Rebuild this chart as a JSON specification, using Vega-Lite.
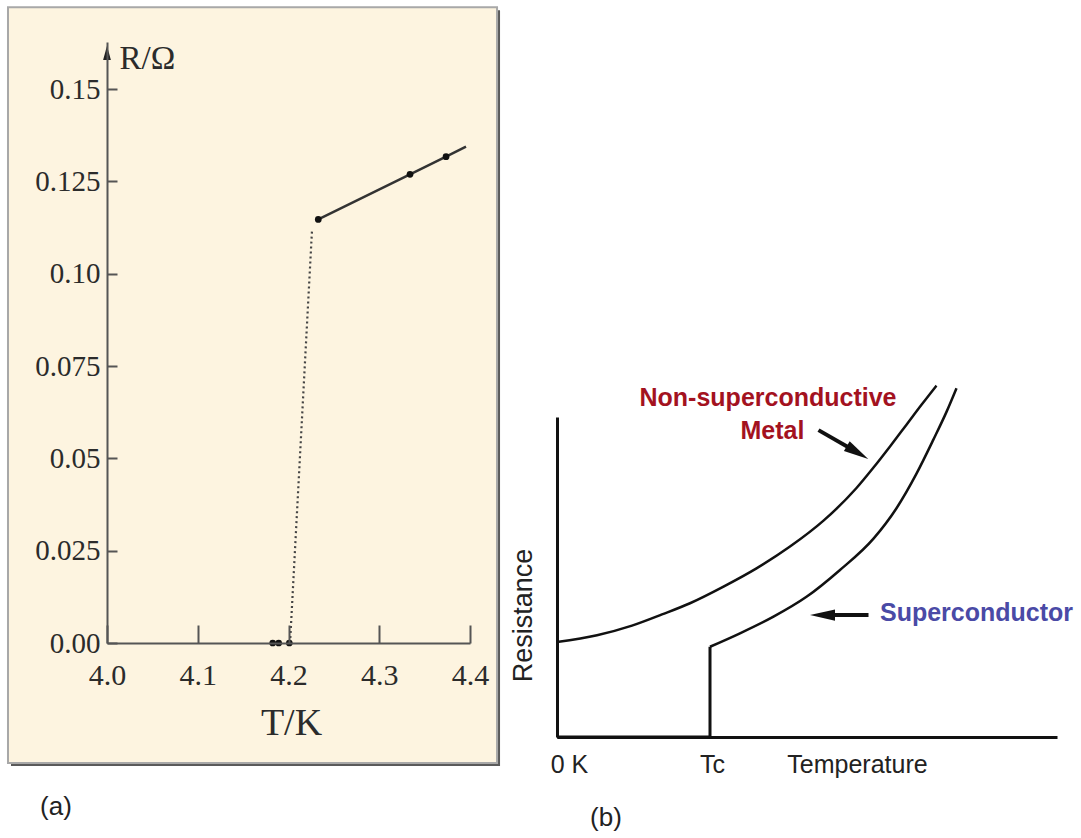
{
  "$schema": "https://vega.github.io/schema/vega-lite/v6.json",
  "width": 1081,
  "height": 838,
  "autosize": {"type": "none"},
  "padding": 0,
  "background": "white",
  "config": {"view": {"stroke": null}},
  "datasets": {
    "a_points": [
      {"T": 4.1826, "R": 0},
      {"T": 4.1892, "R": 0},
      {"T": 4.2009, "R": 0},
      {"T": 4.2328, "R": 0.1147},
      {"T": 4.3339, "R": 0.1269},
      {"T": 4.3736, "R": 0.1317}
    ],
    "a_lines": [
      {"series": "normal", "T": 4.2328, "R": 0.1147},
      {"series": "normal", "T": 4.3339, "R": 0.1269},
      {"series": "normal", "T": 4.3736, "R": 0.1317},
      {"series": "normal", "T": 4.3956, "R": 0.1344},
      {"series": "transition", "T": 4.2017, "R": 0},
      {"series": "transition", "T": 4.2259, "R": 0.1118}
    ],
    "b_step": [
      {"i": 0, "t": 0, "r": 0},
      {"i": 1, "t": 30.6, "r": 0},
      {"i": 2, "t": 30.6, "r": 28.2}
    ],
    "b_curves": [
      {"series": "metal", "t": 0, "r": 29.7},
      {"series": "metal", "t": 8, "r": 31.8},
      {"series": "metal", "t": 15, "r": 34.8},
      {"series": "metal", "t": 21, "r": 38.3},
      {"series": "metal", "t": 26.6, "r": 41.8},
      {"series": "metal", "t": 33.3, "r": 47.0},
      {"series": "metal", "t": 39.9, "r": 52.7},
      {"series": "metal", "t": 46.6, "r": 59.5},
      {"series": "metal", "t": 53.3, "r": 67.6},
      {"series": "metal", "t": 59.9, "r": 77.8},
      {"series": "metal", "t": 63.3, "r": 84.2},
      {"series": "metal", "t": 66.6, "r": 90.8},
      {"series": "metal", "t": 69.9, "r": 97.6},
      {"series": "metal", "t": 72.9, "r": 103.8},
      {"series": "metal", "t": 75.9, "r": 109.8},
      {"series": "super", "t": 30.6, "r": 28.2},
      {"series": "super", "t": 36.6, "r": 32.4},
      {"series": "super", "t": 43.3, "r": 37.6},
      {"series": "super", "t": 49.9, "r": 43.8},
      {"series": "super", "t": 56.6, "r": 52.2},
      {"series": "super", "t": 63.3, "r": 62.0},
      {"series": "super", "t": 67.9, "r": 71.5},
      {"series": "super", "t": 71.9, "r": 82.3},
      {"series": "super", "t": 75.3, "r": 93.0},
      {"series": "super", "t": 77.9, "r": 101.6},
      {"series": "super", "t": 79.9, "r": 109.0}
    ]
  },
  "layer": [
    {
      "layer": [
        {
          "data": {"values": [{}]},
          "mark": {"type": "rect", "fill": "#5a5a5a", "stroke": null},
          "encoding": {
            "x": {"datum": 3.8942, "type": "quantitative"},
            "x2": {"datum": 4.4331},
            "y": {"datum": 0.17137, "type": "quantitative"},
            "y2": {"datum": -0.0333}
          }
        },
        {
          "data": {"values": [{}]},
          "mark": {"type": "rect", "fill": "#fdf4e0", "stroke": "#a8a8a8", "strokeWidth": 2},
          "encoding": {
            "x": {"datum": 3.8909, "type": "quantitative"},
            "x2": {"datum": 4.4298},
            "y": {"datum": 0.17218, "type": "quantitative"},
            "y2": {"datum": -0.03249}
          }
        },
        {
          "data": {"name": "a_lines"},
          "transform": [{"filter": "datum.series === 'transition'"}],
          "mark": {"type": "line", "color": "#444444", "strokeWidth": 2.2, "strokeDash": [2, 3]},
          "encoding": {
            "x": {"field": "T", "type": "quantitative"},
            "y": {"field": "R", "type": "quantitative"}
          }
        },
        {
          "data": {"name": "a_lines"},
          "transform": [{"filter": "datum.series === 'normal'"}],
          "mark": {"type": "line", "color": "#333333", "strokeWidth": 2.5},
          "encoding": {
            "x": {"field": "T", "type": "quantitative"},
            "y": {"field": "R", "type": "quantitative"}
          }
        },
        {
          "data": {"name": "a_points"},
          "mark": {"type": "point", "filled": true, "color": "#111111", "size": 45, "opacity": 1},
          "encoding": {
            "x": {
              "field": "T",
              "type": "quantitative",
              "scale": {"domain": [4.0, 4.4], "range": [107, 470], "nice": false, "zero": false},
              "axis": {
                "orient": "bottom",
                "offset": -195,
                "zindex": 1,
                "grid": false,
                "values": [4.0, 4.1, 4.2, 4.3, 4.4],
                "format": ".1f",
                "domainColor": "#555555",
                "domainWidth": 2,
                "tickColor": "#555555",
                "tickWidth": 2,
                "tickSize": -18,
                "labelFont": "Liberation Serif",
                "labelFontSize": 30,
                "labelColor": "#2b2b2b",
                "labelPadding": 35,
                "labelBaseline": "top",
                "labelFlush": false,
                "labelOverlap": false,
                "title": "T/K",
                "titleFont": "Liberation Serif",
                "titleFontSize": 38,
                "titleFontWeight": "normal",
                "titleColor": "#2b2b2b",
                "titleX": 291,
                "titleY": 91,
                "titleAlign": "center",
                "titleBaseline": "alphabetic"
              }
            },
            "y": {
              "field": "R",
              "type": "quantitative",
              "scale": {"domain": [0, 0.16274], "range": [643, 42], "nice": false, "zero": false},
              "axis": {
                "orient": "left",
                "offset": -107,
                "zindex": 1,
                "grid": false,
                "values": [0, 0.025, 0.05, 0.075, 0.1, 0.125, 0.15],
                "labelExpr": "datum.value === 0 ? '0.00' : (datum.value === 0.1 ? '0.10' : format(datum.value, '.3~f'))",
                "domainColor": "#555555",
                "domainWidth": 2,
                "tickColor": "#555555",
                "tickWidth": 2,
                "tickSize": -10,
                "labelFont": "Liberation Serif",
                "labelFontSize": 29,
                "labelColor": "#2b2b2b",
                "labelPadding": 17,
                "labelFlush": false,
                "labelOverlap": false,
                "title": "R/Ω",
                "titleFont": "Liberation Serif",
                "titleFontSize": 33,
                "titleFontWeight": "normal",
                "titleColor": "#2b2b2b",
                "titleAngle": 0,
                "titleX": 12,
                "titleY": 68,
                "titleAlign": "left",
                "titleBaseline": "alphabetic"
              }
            }
          }
        },
        {
          "data": {"values": [{}]},
          "mark": {"type": "point", "shape": "M0,-1L0.55,1L-0.55,1Z", "filled": true, "color": "#222222", "size": 200, "opacity": 1},
          "encoding": {
            "x": {"datum": 4.0, "type": "quantitative"},
            "y": {"datum": 0.1598, "type": "quantitative"}
          }
        },
        {
          "data": {"values": [{}]},
          "mark": {"type": "text", "text": "(a)", "font": "Liberation Sans", "fontSize": 26, "color": "#222222", "align": "center", "baseline": "middle"},
          "encoding": {
            "x": {"datum": 3.9438, "type": "quantitative"},
            "y": {"datum": -0.0443, "type": "quantitative"}
          }
        }
      ]
    },
    {
      "layer": [
        {
          "data": {"name": "b_curves"},
          "mark": {"type": "line", "color": "#111111", "strokeWidth": 2.5, "interpolate": "monotone"},
          "encoding": {
            "x": {
              "field": "t",
              "type": "quantitative",
              "scale": {"domain": [0, 100], "range": [557, 1057], "nice": false, "zero": false},
              "axis": {
                "orient": "bottom",
                "offset": -101,
                "grid": false,
                "values": [0, 30.6],
                "labelExpr": "datum.value === 0 ? '0 K' : 'Tc'",
                "labelOffset": {"condition": {"test": "datum.value === 0", "value": 12}, "value": 2},
                "domainColor": "#111111",
                "domainWidth": 3,
                "ticks": false,
                "labelFont": "Liberation Sans",
                "labelFontSize": 25,
                "labelColor": "#222222",
                "labelPadding": 15,
                "labelBaseline": "top",
                "labelFlush": false,
                "labelOverlap": false,
                "title": "Temperature",
                "titleFont": "Liberation Sans",
                "titleFontSize": 25,
                "titleFontWeight": "normal",
                "titleColor": "#222222",
                "titleX": 857,
                "titleY": 15,
                "titleAlign": "center",
                "titleBaseline": "top"
              }
            },
            "y": {
              "field": "r",
              "type": "quantitative",
              "scale": {"domain": [0, 100], "range": [737, 417], "nice": false, "zero": false},
              "axis": {
                "orient": "left",
                "offset": -557,
                "grid": false,
                "labels": false,
                "ticks": false,
                "domainColor": "#111111",
                "domainWidth": 3,
                "title": "Resistance",
                "titleFont": "Liberation Sans",
                "titleFontSize": 27,
                "titleFontWeight": "normal",
                "titleColor": "#222222",
                "titleAngle": 270,
                "titleX": -34,
                "titleY": 615,
                "titleAlign": "center",
                "titleBaseline": "middle"
              }
            },
            "detail": {"field": "series"}
          }
        },
        {
          "data": {"name": "b_step"},
          "mark": {"type": "line", "color": "#111111", "strokeWidth": 3},
          "encoding": {
            "x": {"field": "t", "type": "quantitative"},
            "y": {"field": "r", "type": "quantitative"},
            "order": {"field": "i", "type": "quantitative"}
          }
        },
        {
          "data": {"values": [{}]},
          "mark": {"type": "rule", "color": "#111111", "strokeWidth": 4},
          "encoding": {
            "x": {"datum": 52.3, "type": "quantitative"},
            "y": {"datum": 95.9, "type": "quantitative"},
            "x2": {"datum": 60.1},
            "y2": {"datum": 88.9}
          }
        },
        {
          "data": {"values": [{}]},
          "mark": {"type": "point", "shape": "M1,0L-1,-0.45L-1,0.45Z", "angle": 31, "filled": true, "color": "#111111", "size": 625, "opacity": 1},
          "encoding": {
            "x": {"datum": 60.1, "type": "quantitative"},
            "y": {"datum": 88.9, "type": "quantitative"}
          }
        },
        {
          "data": {"values": [{}]},
          "mark": {"type": "rule", "color": "#111111", "strokeWidth": 4},
          "encoding": {
            "x": {"datum": 62.3, "type": "quantitative"},
            "y": {"datum": 38.1, "type": "quantitative"},
            "x2": {"datum": 53.1},
            "y2": {"datum": 38.1}
          }
        },
        {
          "data": {"values": [{}]},
          "mark": {"type": "point", "shape": "M1,0L-1,-0.45L-1,0.45Z", "angle": 180, "filled": true, "color": "#111111", "size": 625, "opacity": 1},
          "encoding": {
            "x": {"datum": 53.1, "type": "quantitative"},
            "y": {"datum": 38.1, "type": "quantitative"}
          }
        },
        {
          "data": {"values": [{}]},
          "mark": {"type": "text", "text": "Non-superconductive", "font": "Liberation Sans", "fontSize": 25, "fontWeight": "bold", "color": "#a3121f", "align": "center", "baseline": "middle"},
          "encoding": {
            "x": {"datum": 42.2, "type": "quantitative"},
            "y": {"datum": 105.9, "type": "quantitative"}
          }
        },
        {
          "data": {"values": [{}]},
          "mark": {"type": "text", "text": "Metal", "font": "Liberation Sans", "fontSize": 25, "fontWeight": "bold", "color": "#a3121f", "align": "center", "baseline": "middle"},
          "encoding": {
            "x": {"datum": 43.1, "type": "quantitative"},
            "y": {"datum": 95.6, "type": "quantitative"}
          }
        },
        {
          "data": {"values": [{}]},
          "mark": {"type": "text", "text": "Superconductor", "font": "Liberation Sans", "fontSize": 25, "fontWeight": "bold", "color": "#4a4aa6", "align": "left", "baseline": "middle"},
          "encoding": {
            "x": {"datum": 64.6, "type": "quantitative"},
            "y": {"datum": 38.75, "type": "quantitative"}
          }
        },
        {
          "data": {"values": [{}]},
          "mark": {"type": "text", "text": "(b)", "font": "Liberation Sans", "fontSize": 26, "color": "#222222", "align": "center", "baseline": "middle"},
          "encoding": {
            "x": {"datum": 9.8, "type": "quantitative"},
            "y": {"datum": -25.3, "type": "quantitative"}
          }
        }
      ]
    }
  ],
  "resolve": {"scale": {"x": "independent", "y": "independent"}}
}
